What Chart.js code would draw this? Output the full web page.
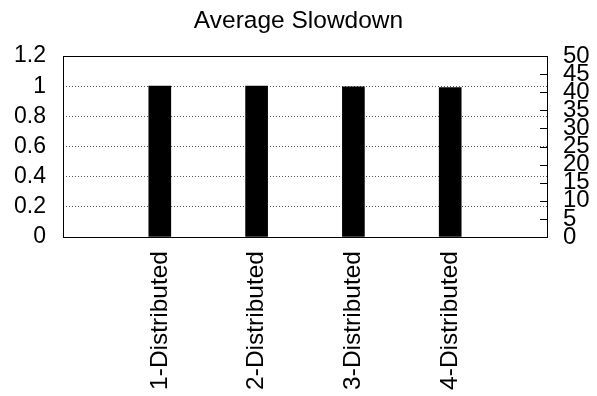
<!DOCTYPE html>
<html>
<head>
<meta charset="utf-8">
<script src="https://cdn.jsdelivr.net/npm/chart.js@4"></script>
<style>
html,body{margin:0;padding:0;background:#fff;}
#wrap{width:597px;height:396px;}
</style>
</head>
<body>
<div id="wrap"><canvas id="c" width="597" height="396"></canvas></div>
<script>
const categories = ['', '1-Distributed', '2-Distributed', '3-Distributed', '4-Distributed', ''];
const slowdown = [null, 1.0, 1.0, 0.995, 0.99, null];
const leftTicks = [0, 0.2, 0.4, 0.6, 0.8, 1, 1.2];
const rightTicks = [0, 5, 10, 15, 20, 25, 30, 35, 40, 45, 50];
const titleText = 'Average Slowdown';

const FONT = "'Liberation Sans', Arial, Helvetica, sans-serif";

const framePlugin = {
  id: 'frame',
  afterDraw(chart) {
    const {ctx, chartArea: a} = chart;
    const y2 = chart.scales.y2;
    ctx.save();
    ctx.strokeStyle = '#000';
    ctx.lineWidth = 1;
    ctx.setLineDash([]);
    ctx.beginPath();
    rightTicks.forEach(v => {
      const py = Math.round(y2.getPixelForValue(v)) + 0.5;
      ctx.moveTo(a.right - 7, py);
      ctx.lineTo(a.right, py);
    });
    ctx.stroke();
    ctx.strokeRect(Math.round(a.left) + 0.5, Math.round(a.top) + 0.5,
      Math.round(a.right - a.left), Math.round(a.bottom - a.top));
    ctx.restore();
  }
};

new Chart(document.getElementById('c'), {
  type: 'bar',
  data: {
    labels: categories,
    datasets: [{
      data: slowdown,
      backgroundColor: '#000',
      borderColor: '#000',
      borderWidth: 0,
      barThickness: 22,
      yAxisID: 'y'
    }]
  },
  options: {
    responsive: false,
    animation: false,
    devicePixelRatio: 1,
    layout: {padding: 0},
    plugins: {
      legend: {display: false},
      tooltip: {enabled: false},
      title: {
        display: true,
        text: titleText,
        color: '#000',
        font: {family: FONT, size: 24.5, weight: 'normal', lineHeight: 1.2},
        padding: {top: 7, bottom: 19.6}
      }
    },
    scales: {
      x: {
        type: 'category',
        offset: false,
        grid: {display: false, drawTicks: false},
        border: {display: false},
        ticks: {
          autoSkip: false,
          minRotation: 90,
          maxRotation: 90,
          padding: 14,
          color: '#000',
          font: {family: FONT, size: 24.5}
        },
        afterFit(s) { s.height = 396 - 237; }
      },
      y: {
        position: 'left',
        min: 0,
        max: 1.2,
        afterBuildTicks(s) { s.ticks = leftTicks.map(v => ({value: v})); },
        grid: {
          drawTicks: false,
          color: ctx => (ctx.tick && (ctx.tick.value === 0 || ctx.tick.value === 1.2)) ? 'rgba(0,0,0,0)' : '#555',
          lineWidth: 1
        },
        border: {display: false, dash: [1, 2]},
        ticks: {
          autoSkip: false,
          padding: 17,
          color: '#000',
          font: {family: FONT, size: 23},
          callback: v => String(Math.round(v * 10) / 10)
        },
        afterFit(s) { s.width = 63; }
      },
      y2: {
        position: 'right',
        min: 0,
        max: 50,
        afterBuildTicks(s) { s.ticks = rightTicks.map(v => ({value: v})); },
        grid: {drawOnChartArea: false, drawTicks: false},
        border: {display: false},
        ticks: {
          padding: 16,
          color: '#000',
          font: {family: FONT, size: 24},
          autoSkip: false
        },
        afterFit(s) { s.width = 597 - 547; }
      }
    }
  },
  plugins: [framePlugin]
});
</script>
</body>
</html>
